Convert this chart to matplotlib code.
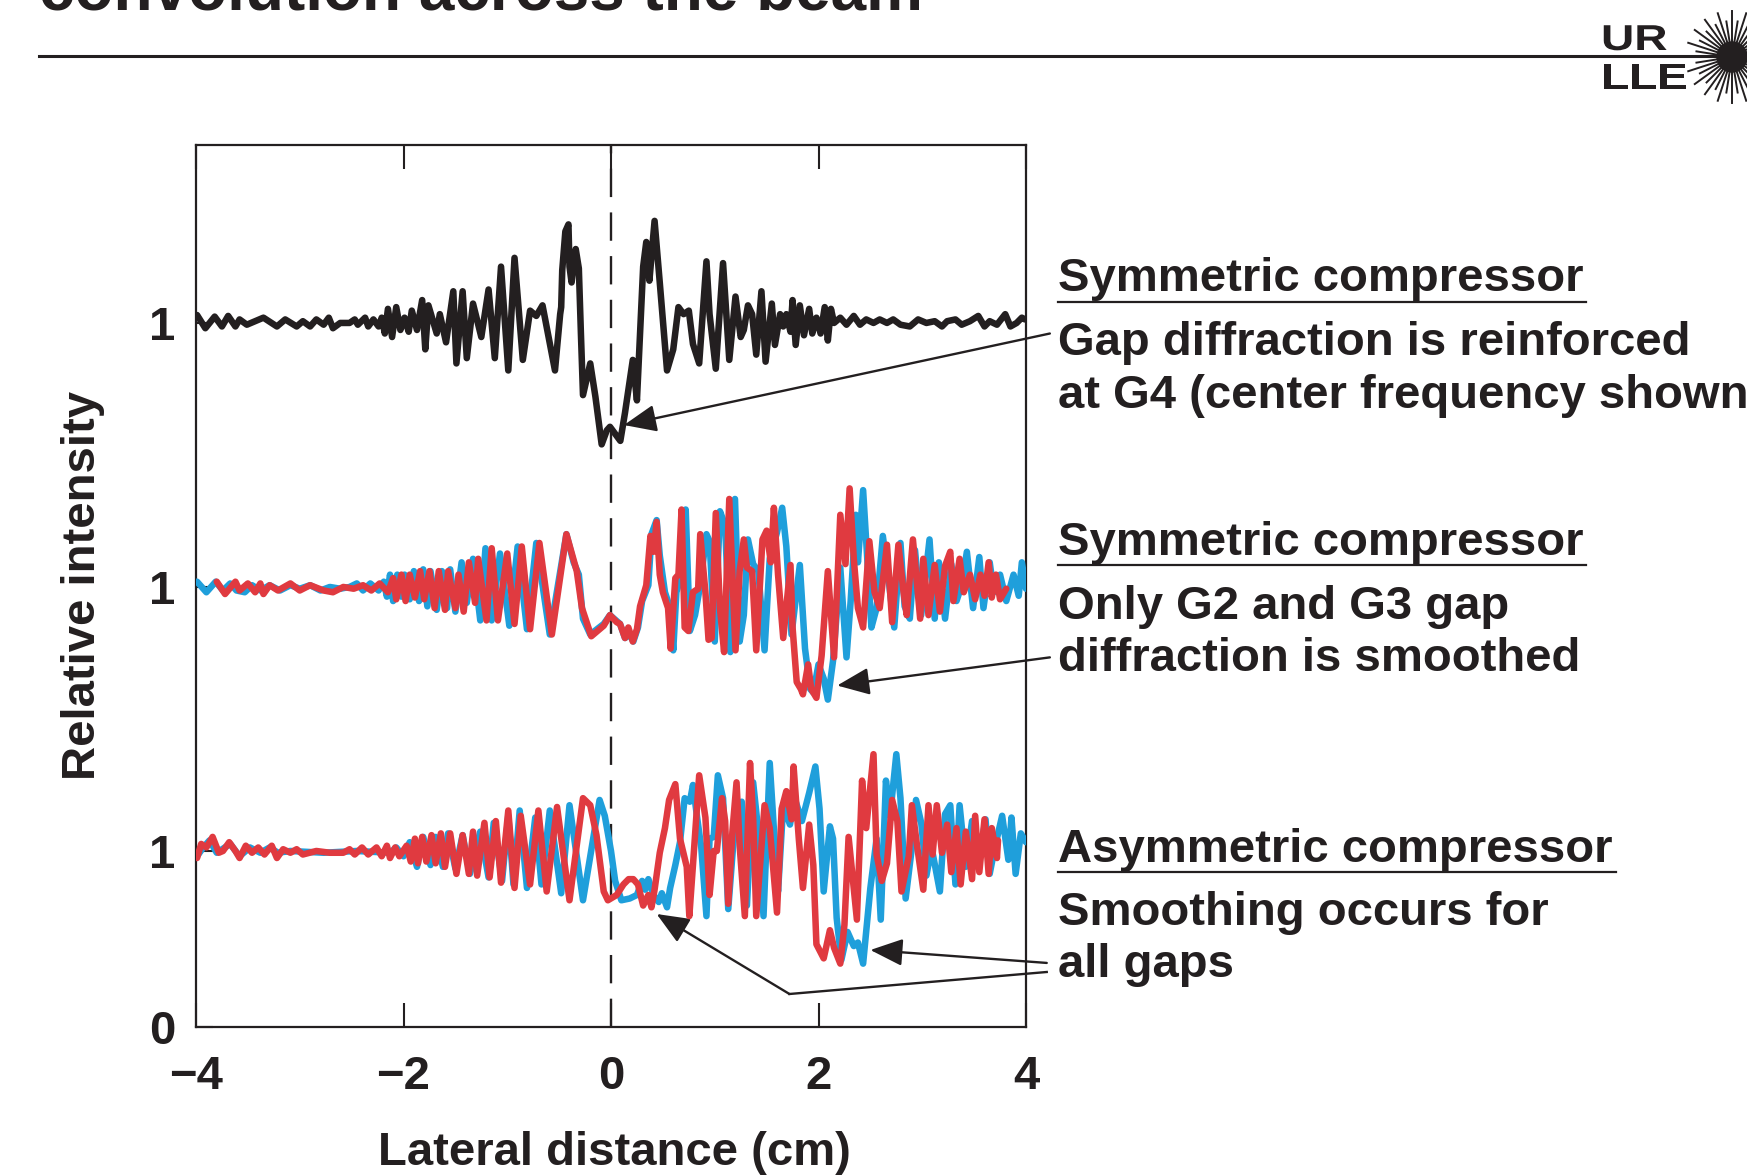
import matplotlib
matplotlib.use("Agg")
import matplotlib.pyplot as plt
from matplotlib.textpath import TextPath
from matplotlib.font_manager import FontProperties
from matplotlib.patches import PathPatch
from matplotlib.transforms import Affine2D
import numpy as np

plt.rcParams['font.family'] = ['Liberation Sans', 'DejaVu Sans']
plt.rcParams['font.weight'] = 'bold'

# ---------------- data (x in cm, relative intensity) ----------------
top_black = [(-3.99,1.045),(-3.91,0.97),(-3.82,1.036),(-3.75,0.98),(-3.69,1.04),(-3.62,0.98),(-3.58,1.02),(-3.51,0.99),
 (-3.35,1.03),(-3.22,0.98),(-3.14,1.02),(-3.03,0.98),(-2.97,1.01),(-2.90,0.98),(-2.84,1.02),(-2.77,0.99),(-2.72,1.03),
 (-2.68,0.97),(-2.61,1.00),(-2.52,1.00),(-2.47,1.02),(-2.44,0.99),(-2.37,1.03),(-2.34,0.98),(-2.29,1.02),(-2.24,0.98),
 (-2.21,1.03),(-2.18,0.94),(-2.15,1.08),(-2.11,0.92),(-2.07,1.09),(-2.03,0.96),(-1.99,1.03),(-1.95,0.95),(-1.92,1.07),
 (-1.87,0.96),(-1.82,1.13),(-1.79,0.85),(-1.76,1.10),(-1.68,0.94),(-1.65,1.05),(-1.59,0.89),(-1.52,1.18),(-1.49,0.77),
 (-1.43,1.18),(-1.39,0.80),(-1.33,1.11),(-1.25,0.92),(-1.18,1.19),(-1.12,0.80),(-1.06,1.32),(-0.99,0.73),(-0.93,1.37),
 (-0.85,0.79),(-0.78,1.07),(-0.72,1.04),(-0.66,1.10),(-0.54,0.73),(-0.49,1.05),(-0.48,1.09),(-0.47,1.30),(-0.44,1.52),
 (-0.41,1.56),(-0.40,1.32),(-0.38,1.23),(-0.34,1.42),(-0.31,1.31),(-0.29,0.94),(-0.27,0.59),(-0.20,0.77),(-0.15,0.58),
 (-0.09,0.31),(-0.04,0.39),(-0.01,0.41),(0.09,0.33),(0.135,0.49),(0.21,0.79),(0.25,0.56),(0.31,1.32),(0.34,1.46),
 (0.37,1.24),(0.42,1.58),(0.47,1.23),(0.54,0.73),(0.60,0.85),(0.65,1.09),(0.70,1.05),(0.75,1.07),(0.79,0.88),(0.85,0.77),
 (0.92,1.35),(0.95,1.05),(1.01,0.74),(1.08,1.34),(1.14,0.79),(1.20,1.15),(1.25,0.92),(1.28,0.96),(1.32,1.10),(1.36,1.05),
 (1.40,0.82),(1.45,1.18),(1.49,0.78),(1.55,1.11),(1.58,0.875),(1.63,1.05),(1.66,0.98),(1.69,1.05),(1.73,0.95),(1.75,1.13),
 (1.78,0.875),(1.82,1.10),(1.86,0.93),(1.91,1.08),(1.94,0.94),(1.98,1.03),(2.02,0.94),(2.06,1.09),(2.09,0.90),(2.12,1.08),
 (2.15,1.00),(2.21,1.03),(2.27,0.99),(2.34,1.04),(2.40,0.99),(2.46,1.02),(2.53,1.00),(2.59,1.02),(2.66,1.00),(2.72,1.02),
 (2.79,0.99),(2.88,0.98),(2.96,1.02),(3.04,1.00),(3.12,1.01),(3.19,0.98),(3.24,1.01),(3.32,1.02),(3.38,0.99),(3.46,1.01),
 (3.54,1.04),(3.60,0.98),(3.65,1.01),(3.72,0.99),(3.80,1.05),(3.85,0.98),(3.91,1.00),(3.96,1.03),(3.99,1.02)]

mid_blue = [(-3.99,1.03),(-3.90,0.97),(-3.81,1.03),(-3.74,0.98),(-3.67,1.02),(-3.61,0.98),(-3.53,0.97),(-3.46,1.01),
 (-3.38,0.98),(-3.29,1.01),(-3.19,0.98),(-3.09,1.01),(-3.00,0.99),(-2.90,1.01),(-2.80,0.98),(-2.71,1.00),(-2.61,0.99),
 (-2.52,1.00),(-2.45,1.02),(-2.39,0.98),(-2.32,1.02),(-2.24,0.98),(-2.19,1.03),(-2.16,0.945),(-2.13,1.07),(-2.10,0.92),
 (-2.06,1.07),(-2.02,0.945),(-1.99,1.07),(-1.94,0.93),(-1.90,1.09),(-1.85,0.92),(-1.81,1.10),(-1.77,0.89),(-1.74,1.09),
 (-1.68,0.87),(-1.63,1.09),(-1.58,0.88),(-1.55,1.10),(-1.50,0.86),(-1.44,1.14),(-1.39,0.91),(-1.33,1.16),(-1.26,0.81),
 (-1.21,1.22),(-1.15,0.81),(-1.07,1.19),(-0.98,0.78),(-0.90,1.23),(-0.81,0.76),(-0.72,1.25),(-0.59,0.73),(-0.43,1.30),
 (-0.36,1.14),(-0.31,1.07),(-0.27,0.82),(-0.20,0.73),(-0.07,0.79),(-0.01,0.84),(0.087,0.79),(0.135,0.71),(0.18,0.73),
 (0.215,0.69),(0.26,0.77),(0.30,0.92),(0.36,1.01),(0.39,1.30),(0.44,1.38),(0.47,1.18),(0.52,0.97),(0.57,0.88),(0.60,0.64),
 (0.63,0.97),(0.68,1.07),(0.72,1.44),(0.76,0.75),(0.81,0.84),(0.86,1.01),(0.92,1.30),(0.95,1.26),(1.00,0.69),(1.05,1.43),
 (1.10,1.35),(1.15,0.63),(1.195,1.50),(1.24,0.69),(1.28,0.84),(1.32,1.27),(1.37,1.13),(1.42,1.09),(1.48,0.64),(1.53,1.16),
 (1.60,1.31),(1.65,1.45),(1.69,1.23),(1.74,0.73),(1.82,1.125),(1.87,0.65),(1.92,0.42),(1.95,0.40),(2.00,0.56),(2.05,0.48),
 (2.09,0.36),(2.14,0.58),(2.21,1.11),(2.27,0.60),(2.31,0.92),(2.36,1.41),(2.38,1.14),(2.43,1.55),(2.46,1.26),(2.51,0.77),
 (2.56,0.88),(2.62,1.29),(2.67,1.07),(2.73,0.77),(2.79,1.25),(2.83,0.89),(2.88,0.82),(2.93,1.21),(2.99,0.84),(3.07,1.27),
 (3.12,0.82),(3.16,1.14),(3.22,0.82),(3.28,1.13),(3.33,0.92),(3.38,1.01),(3.43,1.20),(3.49,0.88),(3.55,1.17),(3.59,0.88),
 (3.65,1.14),(3.69,0.97),(3.75,1.07),(3.81,0.92),(3.88,1.07),(3.93,0.95),(3.96,1.14),(4.00,0.99)]

mid_red = [(-3.80,1.03),(-3.72,0.96),(-3.62,1.03),(-3.58,0.98),(-3.50,1.02),(-3.43,0.97),(-3.38,1.02),(-3.35,0.96),
 (-3.29,1.01),(-3.21,0.98),(-3.09,1.02),(-3.00,0.98),(-2.90,1.01),(-2.77,0.98),(-2.68,0.97),(-2.58,1.00),(-2.48,0.99),
 (-2.39,1.01),(-2.31,0.98),(-2.23,1.02),(-2.15,0.97),(-2.10,1.05),(-2.07,0.93),(-2.02,1.07),(-1.98,0.92),(-1.94,1.07),
 (-1.89,0.94),(-1.84,1.09),(-1.80,0.93),(-1.75,1.09),(-1.70,0.88),(-1.66,1.09),(-1.60,0.87),(-1.57,1.09),(-1.50,0.88),
 (-1.47,1.07),(-1.42,0.86),(-1.37,1.14),(-1.31,0.91),(-1.28,1.16),(-1.20,0.81),(-1.15,1.22),(-1.09,0.81),(-1.00,1.19),
 (-0.93,0.79),(-0.86,1.23),(-0.78,0.76),(-0.69,1.25),(-0.57,0.73),(-0.43,1.30),(-0.33,1.09),(-0.28,0.88),(-0.19,0.72),
 (-0.07,0.78),(-0.01,0.84),(0.055,0.80),(0.087,0.79),(0.135,0.71),(0.167,0.77),(0.21,0.69),(0.25,0.76),(0.28,0.89),
 (0.34,1.01),(0.38,1.29),(0.41,1.20),(0.44,1.37),(0.47,1.07),(0.50,0.97),(0.55,0.88),(0.575,0.65),(0.62,1.05),(0.65,1.07),
 (0.68,1.44),(0.71,0.77),(0.745,0.75),(0.79,0.97),(0.84,0.99),(0.86,1.30),(0.91,0.97),(0.94,0.70),(0.97,0.71),(1.01,1.42),
 (1.05,0.88),(1.09,0.63),(1.14,1.50),(1.19,0.78),(1.20,0.64),(1.24,1.09),(1.28,1.27),(1.31,1.11),(1.36,1.09),(1.40,0.64),
 (1.46,1.27),(1.50,1.32),(1.54,1.14),(1.57,1.45),(1.61,1.07),(1.66,0.71),(1.73,1.125),(1.75,0.77),(1.79,0.46),(1.83,0.42),
 (1.85,0.39),(1.90,0.56),(1.93,0.42),(1.98,0.37),(2.03,0.61),(2.09,1.09),(2.15,0.60),(2.21,1.41),(2.26,1.13),(2.30,1.56),
 (2.34,1.16),(2.38,0.88),(2.43,0.77),(2.49,1.26),(2.54,0.97),(2.59,0.88),(2.66,1.24),(2.71,0.80),(2.77,1.24),(2.82,0.97),
 (2.85,0.84),(2.91,1.27),(2.98,0.82),(3.01,1.16),(3.06,0.84),(3.12,1.125),(3.17,0.86),(3.22,1.12),(3.27,1.20),(3.30,0.92),
 (3.36,1.16),(3.40,0.97),(3.46,1.07),(3.51,0.93),(3.56,1.07),(3.60,0.95),(3.64,1.14),(3.67,0.94),(3.71,1.07),(3.75,0.93),
 (3.81,0.99)]

bot_blue = [(-3.99,0.97),(-3.93,1.02),(-3.87,1.06),(-3.80,0.99),(-3.67,1.04),(-3.58,0.97),(-3.48,1.02),(-3.38,0.99),
 (-3.29,1.02),(-3.21,0.99),(-3.09,1.00),(-2.77,0.99),(-2.45,1.00),(-2.13,0.99),(-2.07,1.02),(-2.00,0.97),(-1.94,1.05),
 (-1.87,0.91),(-1.81,1.08),(-1.74,0.92),(-1.69,1.08),(-1.62,0.91),(-1.57,1.10),(-1.50,0.90),(-1.43,1.09),(-1.36,0.87),
 (-1.26,1.11),(-1.18,0.85),(-1.13,1.16),(-1.05,0.83),(-0.99,1.20),(-0.94,0.81),(-0.88,1.23),(-0.81,0.79),(-0.73,1.19),
 (-0.67,0.81),(-0.59,1.23),(-0.48,0.76),(-0.40,1.26),(-0.27,0.72),(-0.11,1.29),(-0.06,1.20),(0.00,1.00),(0.04,0.83),
 (0.10,0.72),(0.18,0.73),(0.25,0.75),(0.30,0.83),(0.33,0.78),(0.36,0.84),(0.41,0.75),(0.46,0.71),(0.49,0.76),(0.54,0.68),
 (0.57,0.79),(0.62,0.92),(0.665,1.05),(0.71,1.30),(0.76,1.28),(0.79,1.375),(0.83,1.19),(0.87,1.02),(0.92,0.63),(0.95,1.07),
 (0.99,1.08),(1.03,1.43),(1.08,1.30),(1.13,0.67),(1.18,1.05),(1.23,1.20),(1.26,1.28),(1.31,0.69),(1.37,1.39),(1.42,1.11),
 (1.47,0.63),(1.53,1.50),(1.58,1.03),(1.61,0.77),(1.66,1.26),(1.725,1.15),(1.77,1.30),(1.84,1.17),(1.91,1.33),(1.97,1.48),
 (2.01,1.24),(2.05,0.77),(2.11,1.14),(2.14,1.07),(2.175,0.62),(2.22,0.38),(2.28,0.54),(2.34,0.46),(2.38,0.48),(2.43,0.36),
 (2.50,0.79),(2.56,1.07),(2.60,0.61),(2.65,1.40),(2.69,1.20),(2.75,1.55),(2.79,1.30),(2.84,0.73),(2.90,1.02),(2.94,1.29),
 (2.99,1.16),(3.04,0.86),(3.09,1.02),(3.17,0.77),(3.22,1.21),(3.27,1.26),(3.32,0.81),(3.36,1.26),(3.42,0.91),(3.48,1.17),
 (3.51,0.94),(3.56,1.00),(3.61,1.18),(3.65,0.87),(3.70,1.02),(3.77,1.20),(3.83,0.95),(3.86,1.19),(3.90,0.87),(3.95,1.10),
 (4.00,1.05)]

bot_red = [(-3.99,0.96),(-3.95,1.04),(-3.90,1.02),(-3.84,1.08),(-3.78,0.99),(-3.74,1.00),(-3.68,1.05),(-3.62,1.00),
 (-3.58,0.96),(-3.52,1.03),(-3.46,0.99),(-3.40,1.02),(-3.34,0.98),(-3.27,1.03),(-3.22,0.96),(-3.16,1.01),(-3.09,0.99),
 (-3.03,1.01),(-2.97,0.98),(-2.84,1.00),(-2.71,0.99),(-2.58,0.99),(-2.52,1.01),(-2.47,0.98),(-2.40,1.02),(-2.34,0.98),
 (-2.26,1.02),(-2.21,0.97),(-2.16,1.03),(-2.13,0.96),(-2.08,1.02),(-2.04,0.97),(-1.97,1.03),(-1.93,0.94),(-1.89,1.07),
 (-1.86,0.93),(-1.82,1.08),(-1.78,0.94),(-1.73,1.09),(-1.69,0.93),(-1.64,1.10),(-1.60,0.91),(-1.55,1.10),(-1.49,0.87),
 (-1.43,1.09),(-1.37,0.87),(-1.33,1.11),(-1.29,0.86),(-1.22,1.16),(-1.17,0.85),(-1.11,1.17),(-1.06,0.82),(-0.99,1.23),
 (-0.93,0.79),(-0.87,1.20),(-0.78,0.81),(-0.70,1.23),(-0.62,0.77),(-0.52,1.25),(-0.40,0.72),(-0.27,1.30),(-0.20,1.26),
 (-0.14,1.09),(-0.07,0.77),(-0.03,0.72),(0.055,0.75),(0.12,0.81),(0.17,0.84),(0.215,0.84),(0.26,0.81),(0.31,0.69),
 (0.36,0.75),(0.39,0.68),(0.42,0.78),(0.47,0.99),(0.52,1.13),(0.56,1.29),(0.62,1.38),(0.665,1.07),(0.73,0.91),(0.755,0.63),
 (0.79,0.92),(0.85,1.43),(0.91,1.19),(0.95,0.75),(0.99,1.00),(1.02,1.00),(1.07,1.30),(1.10,1.17),(1.13,0.70),(1.17,1.11),
 (1.21,1.39),(1.24,1.03),(1.29,0.63),(1.34,1.50),(1.37,1.19),(1.40,0.63),(1.48,1.26),(1.53,1.13),(1.60,0.65),(1.645,1.24),
 (1.69,1.34),(1.74,1.18),(1.76,1.48),(1.81,1.07),(1.85,0.79),(1.91,1.15),(1.95,0.92),(1.98,0.47),(2.05,0.39),(2.11,0.55),
 (2.15,0.45),(2.21,0.36),(2.25,0.58),(2.29,1.08),(2.34,0.79),(2.37,0.61),(2.42,1.40),(2.46,1.13),(2.53,1.55),(2.56,0.98),
 (2.61,0.83),(2.66,0.93),(2.71,1.29),(2.76,1.17),(2.80,0.77),(2.87,0.97),(2.90,1.26),(2.95,1.03),(3.01,0.78),(3.06,1.26),
 (3.10,0.98),(3.14,1.26),(3.19,0.99),(3.24,1.15),(3.28,0.88),(3.33,1.13),(3.37,0.81),(3.42,1.11),(3.48,0.84),(3.51,1.20),
 (3.55,0.88),(3.60,1.18),(3.64,0.87),(3.67,1.13),(3.72,0.96),(3.73,1.06)]

trace_offsets = {'top': 3.0, 'mid': 1.5, 'bot': 0.0}
x_ticks = [-4, -2, 0, 2, 4]
x_tick_labels = ['\u22124', '\u22122', '0', '2', '4']
y_ticks = [0, 1, 2.5, 4]
y_tick_labels = ['0', '1', '1', '1']

BLACK = '#231f20'
BLUE = '#1f9fdb'
RED = '#e03a40'

W, H = 1747, 1175
fig = plt.figure(figsize=(W / 100, H / 100), dpi=100)
ax = fig.add_axes([196 / W, 1 - 1027 / H, 830 / W, 882 / H])


def unzip(pts, off):
    return [p[0] for p in pts], [p[1] + off for p in pts]


ax.axvline(0, color=BLACK, lw=1.7, dashes=(12, 6.5), zorder=1)
kw = dict(lw=4.7, solid_joinstyle='round', solid_capstyle='round')
ax.plot(*unzip(top_black, trace_offsets['top']), color=BLACK, zorder=3, **kw)
ax.plot(*unzip(mid_blue, trace_offsets['mid']), color=BLUE, zorder=3, **kw)
ax.plot(*unzip(mid_red, trace_offsets['mid']), color=RED, zorder=4, **kw)
ax.plot(*unzip(bot_blue, trace_offsets['bot']), color=BLUE, zorder=3, **kw)
ax.plot(*unzip(bot_red, trace_offsets['bot']), color=RED, zorder=4, **kw)

ax.set_xlim(-4, 4)
ax.set_ylim(0, 5.011)
ax.set_xticks(x_ticks)
ax.set_xticklabels(x_tick_labels)
ax.set_yticks(y_ticks)
ax.set_yticklabels(y_tick_labels)
ax.tick_params(axis='x', direction='in', length=17, width=1.5, top=True,
               labelsize=34, pad=20, colors=BLACK)
ax.tick_params(axis='y', direction='in', length=12, width=1.5,
               labelsize=34, pad=15, colors=BLACK)
for s in ax.spines.values():
    s.set_linewidth(1.6)
    s.set_color(BLACK)

# arrows (data coordinates)
aprops = dict(arrowstyle='-|>,head_length=1.0,head_width=0.42', mutation_scale=20,
              color=BLACK, lw=1.7, shrinkA=0, shrinkB=0)
ax.annotate('', xy=(0.125, 3.42), xytext=(4.23, 3.94), arrowprops=aprops,
            annotation_clip=False)
ax.annotate('', xy=(2.18, 1.94), xytext=(4.23, 2.10), arrowprops=aprops,
            annotation_clip=False)
ax.annotate('', xy=(2.50, 0.4375), xytext=(4.20, 0.364), arrowprops=aprops,
            annotation_clip=False)
ax.plot([4.20, 1.72], [0.3125, 0.1875], color=BLACK, lw=1.7, clip_on=False,
        solid_joinstyle='miter')
ax.annotate('', xy=(0.44, 0.642), xytext=(1.72, 0.1875), arrowprops=aprops,
            annotation_clip=False)

# decoration layer in pixel coordinates
deco = fig.add_axes([0, 0, 1, 1], zorder=-1)
deco.set_xlim(0, W)
deco.set_ylim(H, 0)
deco.axis('off')
deco.patch.set_alpha(0)

deco.text(39, 9, 'convolution across the beam', fontsize=46, fontweight='bold',
          ha='left', va='baseline', color=BLACK)
deco.plot([39, 1730], [56, 56], color=BLACK, lw=2.2)

# UR / LLE logo (extended lettering)
fp = FontProperties(family='Liberation Sans', weight='bold')
for txt, yb in [('UR', 50), ('LLE', 89)]:
    tp = TextPath((0, 0), txt, size=36, prop=fp)
    tr = Affine2D().scale(1.28, -1.0).translate(1601, yb)
    deco.add_patch(PathPatch(tr.transform_path(tp), color=BLACK, lw=0))
cx, cy = 1732, 57
for k, a in enumerate(np.linspace(0, 2 * np.pi, 40, endpoint=False)):
    r = 46 if k % 2 == 0 else 36
    deco.plot([cx, cx + r * np.cos(a)], [cy, cy + r * np.sin(a)], color=BLACK, lw=1.4)
deco.add_patch(plt.Circle((cx, cy), 15, color=BLACK))

deco.text(614, 1153, 'Lateral distance (cm)', fontsize=34, fontweight='bold',
          ha='center', va='center', color=BLACK)
deco.text(83, 585, 'Relative intensity', fontsize=34, fontweight='bold',
          ha='center', va='center', rotation=90, color=BLACK)

TX = 1058
notes = [
    (291, 'Symmetric compressor'),
    (355, 'Gap diffraction is reinforced'),
    (408, 'at G4 (center frequency shown)'),
    (555, 'Symmetric compressor'),
    (619, 'Only G2 and G3 gap'),
    (671, 'diffraction is smoothed'),
    (862, 'Asymmetric compressor'),
    (925, 'Smoothing occurs for'),
    (977, 'all gaps'),
]
for yb, t in notes:
    deco.text(TX, yb, t, fontsize=34, fontweight='bold', ha='left', va='baseline',
              color=BLACK)
for yl, x2 in [(302, 1586), (565, 1586), (872, 1616)]:
    deco.plot([TX, x2], [yl, yl], color=BLACK, lw=1.6)

fig.savefig('out.png', dpi=100)
